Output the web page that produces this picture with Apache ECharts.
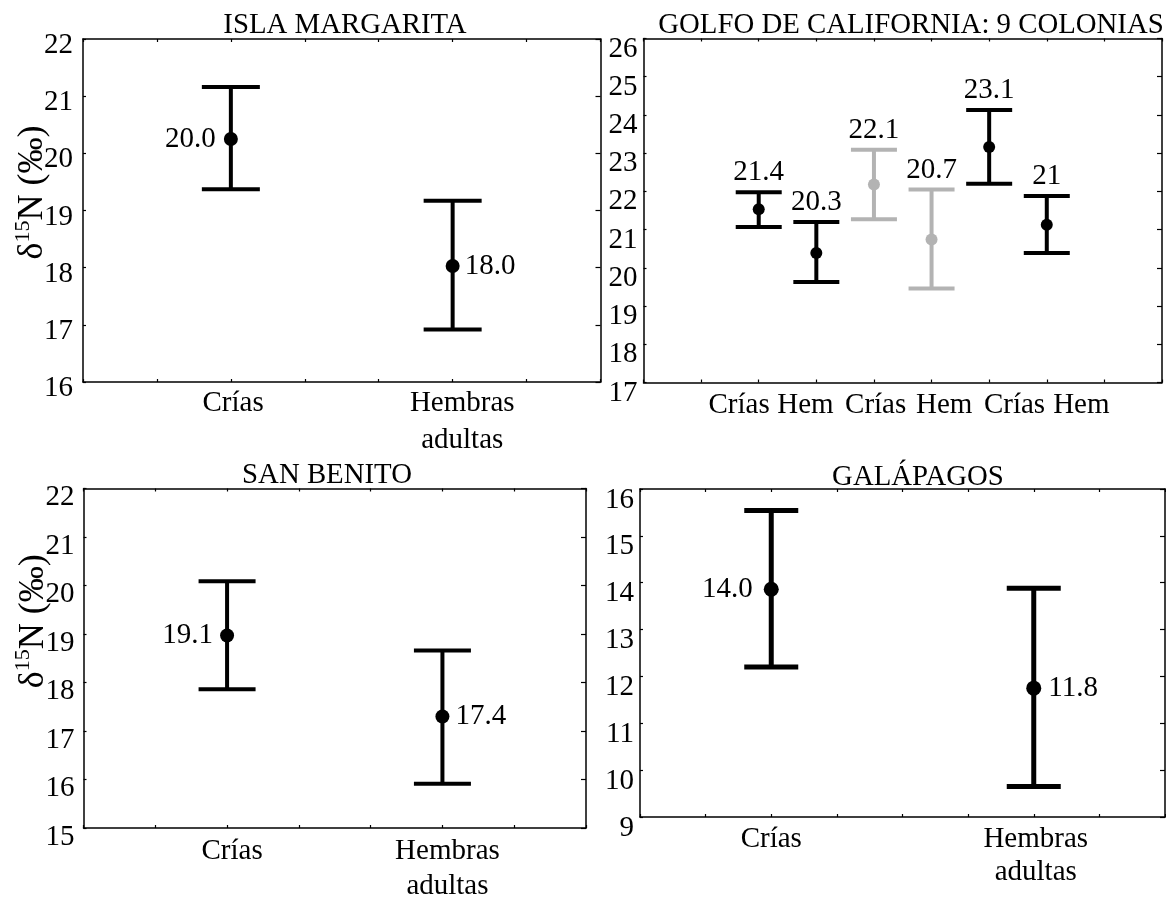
<!DOCTYPE html>
<html>
<head>
<meta charset="utf-8">
<script src="https://cdn.jsdelivr.net/npm/echarts@6/dist/echarts.min.js"></script>
<style>html,body{margin:0;padding:0;background:#fff}#c{width:1166px;height:900px}</style>
</head>
<body>
<div id="c"></div>
<script>
// ---------------- data ----------------
const titles = ['ISLA MARGARITA', 'GOLFO DE CALIFORNIA: 9 COLONIAS', 'SAN BENITO', 'GALÁPAGOS'];

// Isla Margarita
const imCategories = ['Crías', 'Hembras\nadultas'];
const imX = [2, 5];
const imMean = [20.25, 18.03];
const imLow = [19.37, 16.92];
const imHigh = [21.16, 19.17];
const imLabels = ['20.0', '18.0'];
const imYTicks = [16, 17, 18, 19, 20, 21, 22];

// Golfo de California: 9 colonias
const gcCategories = ['Crías', 'Hem', 'Crías', 'Hem', 'Crías', 'Hem'];
const gcX = [2, 3, 4, 5, 6, 7];
const gcMean = [21.53, 20.39, 22.18, 20.74, 23.16, 21.13];
const gcLow = [21.07, 19.63, 21.27, 19.46, 22.20, 20.39];
const gcHigh = [21.98, 21.20, 23.09, 22.05, 24.13, 21.88];
const gcLabels = ['21.4', '20.3', '22.1', '20.7', '23.1', '21'];
const gcYTicks = [17, 18, 19, 20, 21, 22, 23, 24, 25, 26];

// San Benito
const sbCategories = ['Crías', 'Hembras\nadultas'];
const sbX = [2, 5];
const sbMean = [18.97, 17.30];
const sbLow = [17.86, 15.91];
const sbHigh = [20.09, 18.66];
const sbLabels = ['19.1', '17.4'];
const sbYTicks = [15, 16, 17, 18, 19, 20, 21, 22];

// Galápagos
const gaCategories = ['Crías', 'Hembras\nadultas'];
const gaX = [2, 6];
const gaMean = [13.86, 11.75];
const gaLow = [12.20, 9.65];
const gaHigh = [15.54, 13.88];
const gaLabels = ['14.0', '11.8'];
const gaYTicks = [9, 10, 11, 12, 13, 14, 15, 16];

const yAxisName = '{a|δ}{s|15}{a|N (‰)}';

// ---------------- layout / style ----------------
const FONT = '"Liberation Serif","Times New Roman",Times,serif';
const FS = 29;
const GRAY = '#b3b3b3';
const gcColors = ['#000', '#000', GRAY, GRAY, '#000', '#000'];

const panels = [
  { cats: imCategories, x: imX, mean: imMean, low: imLow, high: imHigh, labels: imLabels, yTicks: imYTicks, xMax: 7,
    box: [83, 39, 600.5, 382], titleX: 340, titleTop: 4, cap: 29, lw: 4, dot: 14,
    labelPos: ['left', 'right'], labelDist: [8, 5], catPos: [2.03, 5.13], catLH: 37, catMargin: 3,
    yLabelMargin: 10, yLabelShift: 6.5, name: true, namePad: 36 },
  { cats: gcCategories, x: gcX, mean: gcMean, low: gcLow, high: gcHigh, labels: gcLabels, yTicks: gcYTicks, xMax: 9,
    box: [643.5, 38.5, 1162, 382.5], titleX: 906, titleTop: 4, cap: 23, lw: 4, dot: 12,
    labelAbove: true, colors: gcColors, catPos: [1.66, 2.81, 4.03, 5.22, 6.44, 7.6], catLH: 38, catMargin: 4,
    yLabelMargin: 6, yLabelShift: 10.5, name: false },
  { cats: sbCategories, x: sbX, mean: sbMean, low: sbLow, high: sbHigh, labels: sbLabels, yTicks: sbYTicks, xMax: 7,
    box: [83.5, 488.5, 586, 828], titleX: 322, titleTop: 454, cap: 28.5, lw: 4, dot: 14,
    labelPos: ['left', 'right'], labelDist: [7, 6], catPos: [2.07, 5.07], catLH: 35, catMargin: 6,
    yLabelMargin: 9, yLabelShift: 9, name: true, namePad: 74 },
  { cats: gaCategories, x: gaX, mean: gaMean, low: gaLow, high: gaHigh, labels: gaLabels, yTicks: gaYTicks, xMax: 8,
    box: [640, 489, 1165, 817], titleX: 913, titleTop: 456, cap: 27, lw: 5, dot: 15,
    labelPos: ['left', 'right'], labelDist: [11, 7], catPos: [2, 6.03], catLH: 33, catMargin: 6,
    yLabelMargin: 6, yLabelShift: 11, name: false }
];

const lineStyle = { color: '#000', width: 1.5 };
const grids = [], xAxes = [], yAxes = [], series = [], titleArr = [];

function range(n) { const a = []; for (let i = 0; i <= n; i++) a.push(i); return a; }

function errRender(cap, lw, colors) {
  return function (params, api) {
    const x = api.value(0), lo = api.value(1), hi = api.value(2);
    const a = api.coord([x, hi]), b = api.coord([x, lo]);
    const c = colors ? colors[params.dataIndex] : '#000';
    const st = { stroke: c, lineWidth: lw, fill: null };
    return { type: 'group', children: [
      { type: 'line', shape: { x1: a[0], y1: a[1], x2: b[0], y2: b[1] }, style: st },
      { type: 'line', shape: { x1: a[0] - cap, y1: a[1], x2: a[0] + cap, y2: a[1] }, style: st },
      { type: 'line', shape: { x1: b[0] - cap, y1: b[1], x2: b[0] + cap, y2: b[1] }, style: st }
    ]};
  };
}

panels.forEach((p, i) => {
  const [l, t, r, b] = p.box;
  grids.push({ left: l, top: t, width: r - l, height: b - t, show: false, containLabel: false, outerBoundsMode: 'none' });
  titleArr.push({ text: titles[i], left: p.titleX, top: p.titleTop, textAlign: 'center',
    textStyle: { fontFamily: FONT, fontSize: 28.8, fontWeight: 'normal', color: '#000', lineHeight: 32 } });

  const yMin = p.yTicks[0], yMax = p.yTicks[p.yTicks.length - 1];
  xAxes.push({
    gridIndex: i, type: 'value', position: 'bottom', min: 0, max: p.xMax, interval: 1,
    axisLine: { show: true, onZero: false, lineStyle },
    axisTick: { show: true, inside: true, length: 3, customValues: range(p.xMax), lineStyle: { color: '#000', width: 1.2 } },
    splitLine: { show: false },
    axisLabel: {
      show: true, customValues: p.catPos, margin: p.catMargin,
      fontFamily: FONT, fontSize: FS, color: '#000', lineHeight: p.catLH, verticalAlign: 'top',
      formatter: (v) => { const k = p.catPos.findIndex(q => Math.abs(q - v) < 1e-6); return k >= 0 ? p.cats[k] : ''; }
    }
  });
  xAxes.push({
    gridIndex: i, type: 'value', position: 'top', min: 0, max: p.xMax, interval: 1,
    axisLine: { show: true, onZero: false, lineStyle },
    axisTick: { show: true, inside: true, length: 3, lineStyle: { color: '#000', width: 1.2 } },
    splitLine: { show: false }, axisLabel: { show: false }
  });
  const yl = {
    gridIndex: i, type: 'value', position: 'left', min: yMin, max: yMax, interval: 1,
    axisLine: { show: true, onZero: false, lineStyle },
    axisTick: { show: true, inside: true, length: 3, lineStyle: { color: '#000', width: 1.2 } },
    splitLine: { show: false },
    axisLabel: { show: true, margin: p.yLabelMargin, fontFamily: FONT, fontSize: FS, color: '#000',
      verticalAlign: 'top', lineHeight: 2 * p.yLabelShift,
      formatter: (v) => String(v) }
  };
  if (p.name) {
    Object.assign(yl, {
      name: yAxisName, nameLocation: 'middle', nameRotate: 90, nameGap: 29, nameMoveOverlap: false,
      nameTextStyle: { fontFamily: FONT, color: '#000', padding: [0, 0, 0, p.namePad],
        rich: { a: { fontFamily: FONT, fontSize: 36, color: '#000', lineHeight: 42 },
                s: { fontFamily: FONT, fontSize: 22, color: '#000', verticalAlign: 'top', lineHeight: 24 } } }
    });
  }
  yAxes.push(yl);
  yAxes.push({
    gridIndex: i, type: 'value', position: 'right', min: yMin, max: yMax, interval: 1,
    axisLine: { show: true, onZero: false, lineStyle },
    axisTick: { show: true, inside: true, length: 5, lineStyle: { color: '#000', width: 1.2 } },
    splitLine: { show: false }, axisLabel: { show: false }
  });

  const xi = 2 * i, yi = 2 * i;
  series.push({
    type: 'custom', xAxisIndex: xi, yAxisIndex: yi, clip: false, silent: true,
    renderItem: errRender(p.cap, p.lw, p.colors),
    encode: { x: 0, y: [1, 2] },
    data: p.x.map((x, k) => [x, p.low[k], p.high[k]])
  });
  series.push({
    type: 'scatter', xAxisIndex: xi, yAxisIndex: yi, symbol: 'circle', symbolSize: p.dot, silent: true,
    itemStyle: { color: '#000', opacity: 1 }, z: 5,
    data: p.x.map((x, k) => {
      const item = { value: [x, p.mean[k]] };
      if (p.colors) item.itemStyle = { color: p.colors[k], opacity: 1 };
      if (!p.labelAbove) {
        item.label = { show: true, position: p.labelPos[k], distance: p.labelDist[k], formatter: p.labels[k],
          fontFamily: FONT, fontSize: FS, color: '#000' };
      }
      return item;
    })
  });
  if (p.labelAbove) {
    series.push({
      type: 'scatter', xAxisIndex: xi, yAxisIndex: yi, symbol: 'circle', symbolSize: 2, silent: true,
      itemStyle: { color: 'rgba(0,0,0,0)', opacity: 1 }, z: 6,
      label: { show: true, position: 'top', distance: 4, fontFamily: FONT, fontSize: FS, color: '#000', opacity: 1,
        formatter: (prm) => p.labels[prm.dataIndex] },
      data: p.x.map((x, k) => [x, p.high[k]])
    });
  }
});

const chart = echarts.init(document.getElementById('c'), null, { renderer: 'canvas' });
chart.setOption({
  animation: false,
  backgroundColor: '#fff',
  title: titleArr,
  grid: grids,
  xAxis: xAxes,
  yAxis: yAxes,
  series: series
});
</script>
</body>
</html>
